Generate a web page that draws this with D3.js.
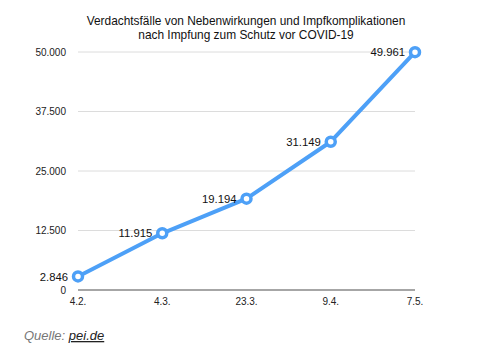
<!DOCTYPE html>
<html><head><meta charset="utf-8">
<script src="https://cdn.jsdelivr.net/npm/d3@7"></script>
<style>
body{margin:0;background:#fff;font-family:"Liberation Sans",Arial,Helvetica,sans-serif;}
svg{display:block}
</style></head>
<body>
<svg id="c" width="478" height="356"></svg>
<script>
const categories = ["4.2.", "4.3.", "23.3.", "9.4.", "7.5."];
const values = [2846, 11915, 19194, 31149, 49961];
const valueLabels = ["2.846", "11.915", "19.194", "31.149", "49.961"];
const yTicks = [0, 12500, 25000, 37500, 50000];
const yTickLabels = ["0", "12.500", "25.000", "37.500", "50.000"];
const titleLines = ["Verdachtsfälle von Nebenwirkungen und Impfkomplikationen", "nach Impfung zum Schutz vor COVID-19"];

(function(){
const svg = d3.select("#c");
const mLeft = 78, mRight = 415, mTop = 52, mBottom = 290;
const x = d3.scalePoint().domain(categories).range([mLeft, mRight]);
const y = d3.scaleLinear().domain([0, 50000]).range([mBottom, mTop]);

svg.append("g").selectAll("text").data(titleLines).join("text")
  .attr("x", 246).attr("y", (d,i)=>24.5 + i*14)
  .attr("text-anchor","middle").attr("font-size",11.9).attr("fill","#111")
  .text(d=>d);

svg.append("g").selectAll("line").data(yTicks.filter(t=>t>0)).join("line")
  .attr("x1", mLeft).attr("x2", mRight)
  .attr("y1", d=>y(d)).attr("y2", d=>y(d))
  .attr("stroke","#dcdcdc").attr("stroke-width",1);
svg.append("line").attr("x1",mLeft).attr("x2",mRight).attr("y1",y(0)).attr("y2",y(0))
  .attr("stroke","#888").attr("stroke-width",1.5);

svg.append("g").selectAll("text").data(yTicks).join("text")
  .attr("x", 66).attr("y", d=>y(d)+3.5)
  .attr("text-anchor","end").attr("font-size",10).attr("fill","#222")
  .text((d,i)=>yTickLabels[i]);

svg.append("g").selectAll("text").data(categories).join("text")
  .attr("x", d=>x(d)).attr("y", 305)
  .attr("text-anchor","middle").attr("font-size",10).attr("fill","#222")
  .text(d=>d);

const line = d3.line().x((d,i)=>x(categories[i])).y(d=>y(d));
svg.append("path").datum(values).attr("d", line)
  .attr("fill","none").attr("stroke","#4da0f7").attr("stroke-width",4)
  .attr("stroke-linejoin","round");

svg.append("g").selectAll("circle").data(values).join("circle")
  .attr("cx",(d,i)=>x(categories[i])).attr("cy",d=>y(d)).attr("r",4.5)
  .attr("fill","#fff").attr("stroke","#4da0f7").attr("stroke-width",3.5);

svg.append("g").selectAll("text").data(values).join("text")
  .attr("x",(d,i)=>x(categories[i])-10).attr("y",d=>y(d)+4.2)
  .attr("text-anchor","end").attr("font-size",11.3).attr("fill","#111")
  .text((d,i)=>valueLabels[i]);

const src = svg.append("text").attr("x",24).attr("y",340).attr("font-size",13);
src.append("tspan").attr("font-style","italic").attr("fill","#777").text("Quelle: ");
src.append("tspan").attr("font-style","italic").attr("fill","#222").attr("text-decoration","underline").text("pei.de");
})();
</script>
</body></html>
